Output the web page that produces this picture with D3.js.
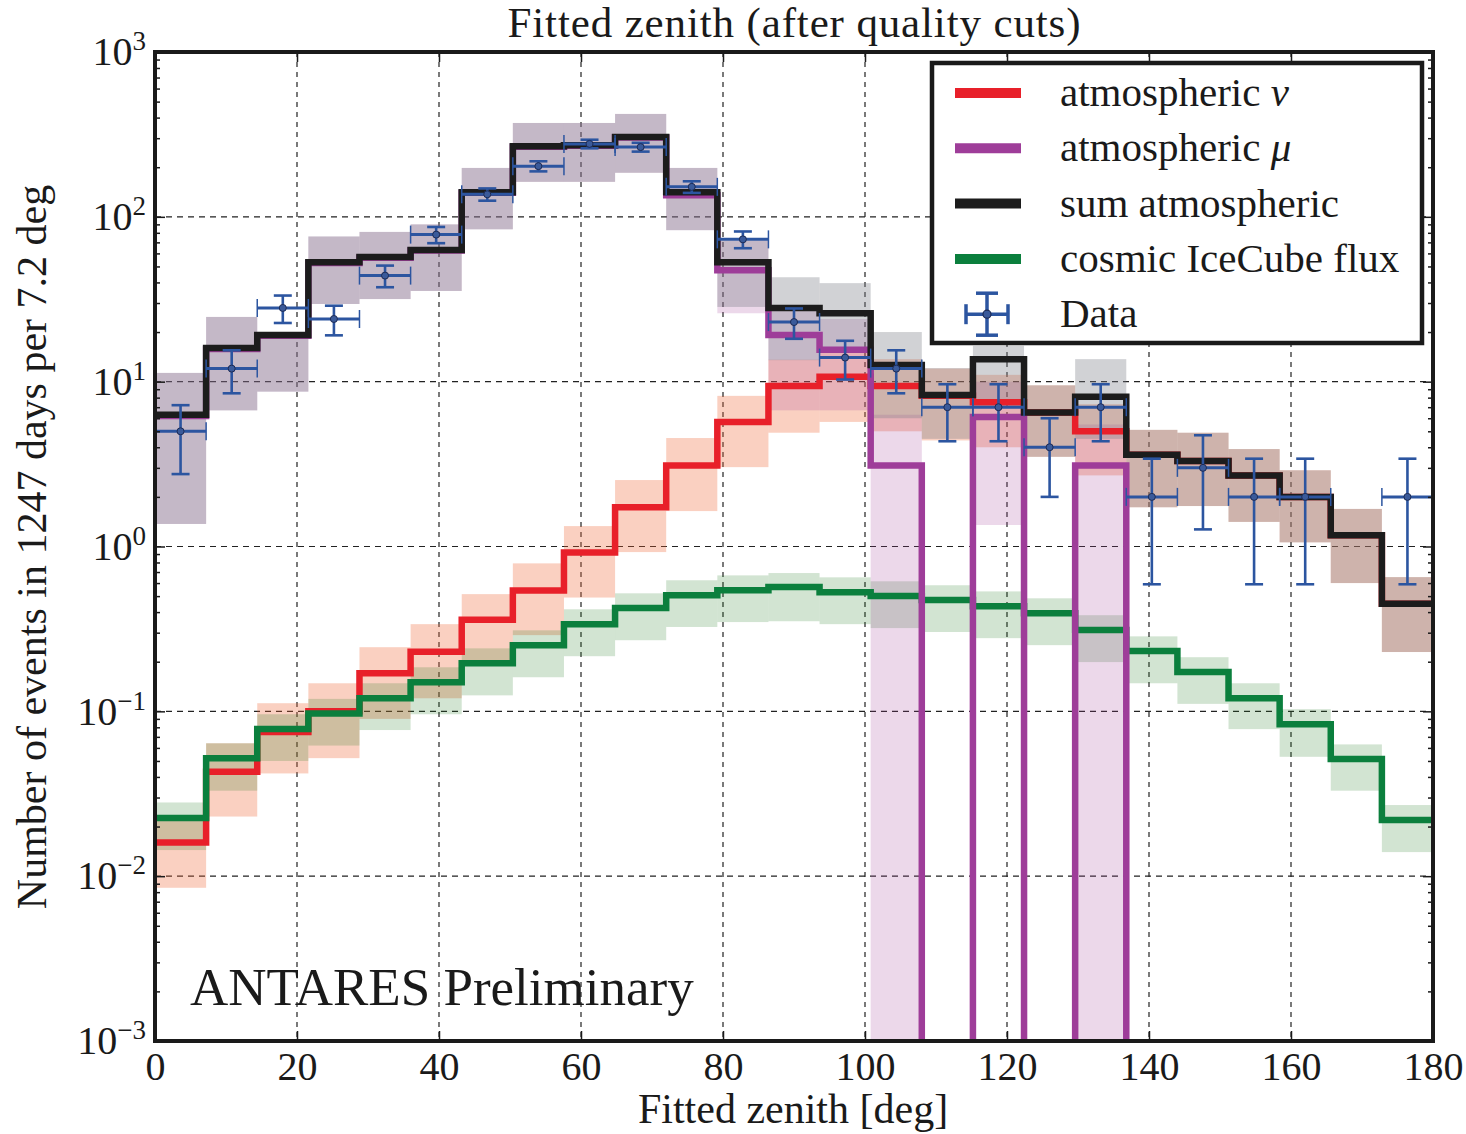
<!DOCTYPE html>
<html>
<head>
<meta charset="utf-8">
<script src="https://cdn.jsdelivr.net/npm/d3@7"></script>
<style>
  body { margin: 0; background: #fff; }
  text { font-family: "Liberation Serif", "DejaVu Serif", serif; fill: #1a1a1a; }
</style>
</head>
<body>
<svg id="chart" width="1466" height="1134"></svg>
<script>
/* bords des bins en zenith (7.2 deg) */
var edges = [0, 7.2, 14.4, 21.6, 28.8, 36, 43.2, 50.4, 57.6, 64.8, 72, 79.2, 86.4, 93.6,
    100.8, 108, 115.2, 122.4, 129.6, 136.8, 144, 151.2, 158.4, 165.6, 172.8, 180];

/* atmospheric nu */
var atmNu   = [0.016, 0.043, 0.075, 0.10, 0.17, 0.23, 0.36, 0.54, 0.92, 1.73, 3.1, 5.7, 9.4,
    10.7, 9.4, 8.2, 7.5, 6.5, 5.0, 3.6, 3.3, 2.7, 2.0, 1.17, 0.45];
var atmNuLo = [0.0085, 0.023, 0.042, 0.052, 0.09, 0.12, 0.19, 0.29, 0.49, 0.925, 1.64, 3.03, 4.9,
    5.7, 5.0, 4.4, 4.0, 3.5, 2.7, 1.73, 1.76, 1.41, 1.06, 0.60, 0.229];
var atmNuHi = [0.0234, 0.064, 0.112, 0.148, 0.245, 0.338, 0.514, 0.79, 1.33, 2.53, 4.55, 8.2, 13.6,
    15.5, 13.7, 12.0, 11.0, 9.5, 7.3, 5.1, 4.9, 3.9, 2.9, 1.69, 0.652];

/* atmospheric mu (0 = pas d'evenement) */
var atmMu   = [6.2, 15.8, 19.0, 52.5, 56.5, 62.5, 140, 266, 270, 303, 135, 47.5, 19.2,
    15.6, 3.1, 0, 6.1, 0, 3.1, 0, 0, 0, 0, 0, 0];
var atmMuLo = [1.37, 6.7, 8.7, 29.6, 31.7, 35.5, 84, 163, 163, 185, 83, 26, 6.7,
    6.7, 0, 0, 1.35, 0, 0, 0, 0, 0, 0, 0, 0];
var atmMuHi = [11.3, 24.7, 19.5, 76, 81, 90, 198, 371, 371, 421, 198, 72, 27,
    24, 6.3, 0, 10, 0, 5.5, 0, 0, 0, 0, 0, 0];

/* sum atmospheric */
var sumAtm   = [6.3, 16, 19.2, 53, 57, 63, 141, 268, 272, 305, 141, 53, 28,
    26, 12.6, 8.3, 13.7, 6.5, 8.1, 3.6, 3.3, 2.7, 2.0, 1.17, 0.45];
var sumAtmLo = [1.37, 6.7, 8.7, 29.6, 31.7, 35.5, 84, 163, 163, 185, 83, 28.4, 13.5,
    15, 6, 4.5, 7, 3.5, 4.5, 1.73, 1.76, 1.41, 1.06, 0.60, 0.229];
var sumAtmHi = [11.3, 24.7, 19.5, 76, 81, 90, 198, 371, 371, 421, 198, 72, 43,
    39.6, 20, 12.1, 16.5, 9.5, 13.7, 5.1, 4.9, 3.9, 2.9, 1.69, 0.652];

/* cosmic IceCube flux */
var cosmic   = [0.0225, 0.052, 0.078, 0.097, 0.12, 0.15, 0.196, 0.252, 0.338, 0.423, 0.507, 0.543, 0.567,
    0.528, 0.50, 0.473, 0.434, 0.394, 0.311, 0.232, 0.173, 0.12, 0.0835, 0.0513, 0.0219];
var cosmicLo = [0.0144, 0.033, 0.050, 0.062, 0.077, 0.096, 0.125, 0.161, 0.216, 0.27, 0.325, 0.348, 0.352,
    0.338, 0.32, 0.303, 0.278, 0.252, 0.199, 0.148, 0.111, 0.078, 0.053, 0.033, 0.014];
var cosmicHi = [0.028, 0.064, 0.096, 0.119, 0.148, 0.185, 0.241, 0.31, 0.416, 0.52, 0.624, 0.668, 0.69,
    0.65, 0.615, 0.582, 0.534, 0.485, 0.383, 0.285, 0.213, 0.148, 0.103, 0.063, 0.027];

/* donnees ANTARES */
var dataN  = [5, 12, 28, 24, 44, 78, 137, 203, 277, 265, 152, 73, 23, 14, 12, 7, 7, 4, 7, 2, 3, 2, 2, 0, 2];
var dataLo = [2.75, 8.5, 22.7, 19.1, 37.4, 69.2, 125.3, 188.7, 260.4, 248.7, 139.7, 64.5, 18.2,
    10.3, 8.5, 4.35, 4.35, 2.0, 4.35, 0.59, 1.27, 0.59, 0.59, 0, 0.59];
var dataHi = [7.2, 15.5, 33.3, 28.9, 50.6, 86.8, 148.7, 217.3, 293.6, 281.3, 164.3, 81.5, 27.8,
    17.7, 15.5, 9.65, 9.65, 6.0, 9.65, 3.41, 4.73, 3.41, 3.41, 0, 3.41];

/* axes */
var xTicks = [0, 20, 40, 60, 80, 100, 120, 140, 160, 180];
var yTicks = [1e-3, 1e-2, 1e-1, 1, 10, 100, 1000];
var yTickExp = ["\u22123", "\u22122", "\u22121", "0", "1", "2", "3"];

var legendLabels = ["atmospheric ", "atmospheric ", "sum atmospheric", "cosmic IceCube flux", "Data"];
var legendGreek = ["\u03bd", "\u03bc", "", "", ""];

var colNu = "#e8202a", colMu = "#9e3d99", colSum = "#1c1c1c", colCos = "#0b7f3d", colData = "#2c55a0";

var svg = d3.select("#chart");
var L = 155, R = 1433, T = 52, B = 1041;

var x = d3.scaleLinear().domain([0, 180]).range([L, R]);
var y = d3.scaleLog().domain([1e-3, 1e3]).range([B, T]);

/* valeur nulle -> sous l'axe */
function yv(v) {
    return v > 1e-3 ? y(v) : B + 6;
}

svg.append("defs").append("clipPath").attr("id", "plotclip")
    .append("rect").attr("x", L).attr("y", T).attr("width", R - L).attr("height", B - T);

/* grille en pointillés */
var grid = svg.append("g");
grid.selectAll("line.gx")
    .data(xTicks.slice(1, -1))
    .enter().append("line")
    .attr("x1", function (d) { return x(d); })
    .attr("x2", function (d) { return x(d); })
    .attr("y1", T).attr("y2", B)
    .attr("stroke", "#222").attr("stroke-width", 1.2).attr("stroke-dasharray", "5,5");
grid.selectAll("line.gy")
    .data(yTicks.slice(1, -1))
    .enter().append("line")
    .attr("y1", function (d) { return y(d); })
    .attr("y2", function (d) { return y(d); })
    .attr("x1", L).attr("x2", R)
    .attr("stroke", "#222").attr("stroke-width", 1.2).attr("stroke-dasharray", "6,5");

var plot = svg.append("g").attr("clip-path", "url(#plotclip)");

/* bandes d'incertitude, un rectangle par bin */
function band(lo, hi, color, alpha) {
    plot.append("g").selectAll("rect")
        .data(hi.map(function (h, i) { return {i: i, lo: lo[i], hi: h}; })
            .filter(function (d) { return d.hi > 0; }))
        .enter().append("rect")
        .attr("x", function (d) { return x(edges[d.i]); })
        .attr("width", function (d) { return x(edges[d.i + 1]) - x(edges[d.i]); })
        .attr("y", function (d) { return y(d.hi); })
        .attr("height", function (d) { return yv(d.lo) - y(d.hi); })
        .attr("fill", color)
        .attr("fill-opacity", alpha);
}
band(atmNuLo, atmNuHi, "#f06432", 0.3);
band(cosmicLo, cosmicHi, "#1e781e", 0.2);
band(atmMuLo, atmMuHi, "#a03c96", 0.2);
band(sumAtmLo, sumAtmHi, "#7a7e86", 0.35);

/* histogrammes en escalier */
function step(vals, color) {
    var pts = [];
    vals.forEach(function (v, i) {
        pts.push([edges[i], v]);
        pts.push([edges[i + 1], v]);
    });
    plot.append("path")
        .attr("d", d3.line()
            .x(function (d) { return x(d[0]); })
            .y(function (d) { return yv(d[1]); })(pts))
        .attr("fill", "none")
        .attr("stroke", color)
        .attr("stroke-width", 6.5)
        .attr("stroke-linejoin", "miter");
}
step(atmNu, colNu);
step(cosmic, colCos);
step(atmMu, colMu);
step(sumAtm, colSum);

/* points de donnees avec barres d'erreur */
var pts = dataN.map(function (n, i) {
    return {n: n, lo: dataLo[i], hi: dataHi[i], x0: edges[i], x1: edges[i + 1], xc: (edges[i] + edges[i + 1]) / 2};
}).filter(function (d) { return d.n > 0; });

var dg = plot.append("g").attr("stroke", colData).attr("stroke-width", 2.6);
var cap = 9;
pts.forEach(function (d) {
    var g = dg.append("g");
    g.append("line").attr("x1", x(d.x0)).attr("x2", x(d.x1)).attr("y1", y(d.n)).attr("y2", y(d.n)).attr("stroke-width", 3);
    g.append("line").attr("x1", x(d.xc)).attr("x2", x(d.xc)).attr("y1", y(d.lo)).attr("y2", y(d.hi));
    g.append("line").attr("x1", x(d.xc) - cap).attr("x2", x(d.xc) + cap).attr("y1", y(d.lo)).attr("y2", y(d.lo));
    g.append("line").attr("x1", x(d.xc) - cap).attr("x2", x(d.xc) + cap).attr("y1", y(d.hi)).attr("y2", y(d.hi));
    g.append("line").attr("x1", x(d.x0)).attr("x2", x(d.x0)).attr("y1", y(d.n) - cap).attr("y2", y(d.n) + cap).attr("stroke-width", 1.5);
    g.append("line").attr("x1", x(d.x1)).attr("x2", x(d.x1)).attr("y1", y(d.n) - cap).attr("y2", y(d.n) + cap).attr("stroke-width", 1.5);
    g.append("circle").attr("cx", x(d.xc)).attr("cy", y(d.n)).attr("r", 3.5)
        .attr("fill", "#3a5a9a").attr("stroke", "#1d2b55").attr("stroke-width", 1);
});

/* axes avec ticks vers l'interieur */
var minor = [];
yTicks.slice(0, -1).forEach(function (t) {
    for (var k = 2; k <= 9; k++) minor.push(t * k);
});

var yAx = svg.append("g").attr("transform", "translate(" + L + ",0)")
    .call(d3.axisLeft(y).tickValues(yTicks).tickSize(-10).tickPadding(9));
yAx.select(".domain").remove();
yAx.selectAll(".tick text").each(function (d, i) {
    var t = d3.select(this).text("").attr("font-size", 40).attr("fill", "#1a1a1a")
        .attr("font-family", "Liberation Serif");
    t.append("tspan").text("10");
    t.append("tspan").attr("font-size", 27).attr("dy", "-15").text(yTickExp[i]);
});
svg.append("g").attr("transform", "translate(" + L + ",0)")
    .call(d3.axisLeft(y).tickValues(minor).tickSize(-5).tickFormat(""))
    .select(".domain").remove();
svg.append("g").attr("transform", "translate(" + R + ",0)")
    .call(d3.axisRight(y).tickValues(yTicks).tickSize(-10).tickFormat(""))
    .select(".domain").remove();
svg.append("g").attr("transform", "translate(" + R + ",0)")
    .call(d3.axisRight(y).tickValues(minor).tickSize(-5).tickFormat(""))
    .select(".domain").remove();

var xAx = svg.append("g").attr("transform", "translate(0," + B + ")")
    .call(d3.axisBottom(x).tickValues(xTicks).tickSize(-10).tickPadding(11));
xAx.select(".domain").remove();
xAx.selectAll(".tick text").attr("font-size", 40).attr("fill", "#1a1a1a")
    .attr("font-family", "Liberation Serif");
svg.append("g").attr("transform", "translate(0," + T + ")")
    .call(d3.axisTop(x).tickValues(xTicks).tickSize(-10).tickFormat(""))
    .select(".domain").remove();
svg.selectAll(".tick line").attr("stroke", "#1a1a1a").attr("stroke-width", 1.5);

/* cadre */
svg.append("rect").attr("x", L).attr("y", T).attr("width", R - L).attr("height", B - T)
    .attr("fill", "none").attr("stroke", "#1a1a1a").attr("stroke-width", 4);

/* textes */
svg.append("text").attr("x", 794).attr("y", 37).attr("text-anchor", "middle")
    .attr("font-size", 43).attr("textLength", 573).attr("lengthAdjust", "spacing")
    .text("Fitted zenith (after quality cuts)");
svg.append("text").attr("x", 793).attr("y", 1123).attr("text-anchor", "middle")
    .attr("font-size", 42).text("Fitted zenith [deg]");
svg.append("text").attr("transform", "translate(46,547) rotate(-90)").attr("text-anchor", "middle")
    .attr("font-size", 42).text("Number of events in 1247 days per 7.2 deg");
svg.append("text").attr("x", 190).attr("y", 1005)
    .attr("font-size", 53).attr("fill", "#111").text("ANTARES Preliminary");

/* legende */
var lg = svg.append("g");
lg.append("rect").attr("x", 932).attr("y", 63).attr("width", 490).attr("height", 280)
    .attr("fill", "#fff").attr("stroke", "#1a1a1a").attr("stroke-width", 4.5);
var legCols = [colNu, colMu, colSum, colCos];
legendLabels.forEach(function (lab, i) {
    var cy = 93 + i * 55.3;
    if (i < 4) {
        lg.append("line").attr("x1", 955).attr("x2", 1021).attr("y1", cy).attr("y2", cy)
            .attr("stroke", legCols[i]).attr("stroke-width", 10);
    } else {
        var ig = lg.append("g").attr("stroke", colData).attr("stroke-width", 3.5);
        ig.append("line").attr("x1", 966).attr("x2", 1008).attr("y1", cy).attr("y2", cy);
        ig.append("line").attr("x1", 987).attr("x2", 987).attr("y1", cy - 21).attr("y2", cy + 21);
        ig.append("line").attr("x1", 966).attr("x2", 966).attr("y1", cy - 10).attr("y2", cy + 10);
        ig.append("line").attr("x1", 1008).attr("x2", 1008).attr("y1", cy - 10).attr("y2", cy + 10);
        ig.append("line").attr("x1", 976).attr("x2", 998).attr("y1", cy - 21).attr("y2", cy - 21);
        ig.append("line").attr("x1", 976).attr("x2", 998).attr("y1", cy + 21).attr("y2", cy + 21);
        ig.append("circle").attr("cx", 987).attr("cy", cy).attr("r", 4)
            .attr("fill", "#3a5a9a").attr("stroke", "#1d2b55").attr("stroke-width", 1.2);
    }
    var t = lg.append("text").attr("x", 1060).attr("y", cy + 13).attr("font-size", 41);
    t.append("tspan").text(lab);
    if (legendGreek[i]) t.append("tspan").attr("font-style", "italic").text(legendGreek[i]);
});
</script>
</body>
</html>
